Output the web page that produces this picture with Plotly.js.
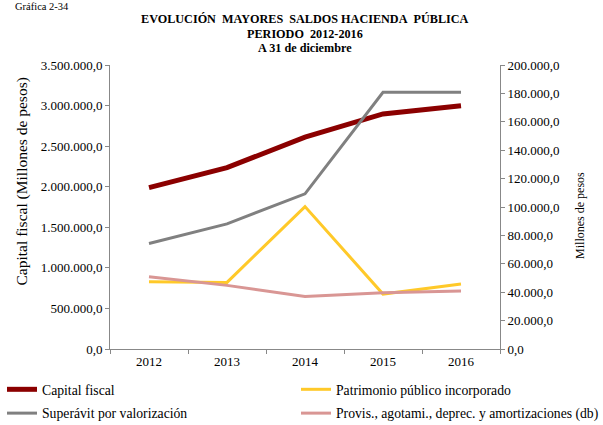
<!DOCTYPE html>
<html>
<head>
<meta charset="utf-8">
<script src="https://cdn.plot.ly/plotly-3.0.1.min.js"></script>
<style>html,body{margin:0;padding:0;background:#fff;}#chart{width:603px;height:425px;}</style>
</head>
<body>
<div id="chart"></div>
<script>
var years = ['2012', '2013', '2014', '2015', '2016'];
var capitalFiscal = [1989000, 2236000, 2610000, 2897000, 2999000];
var patrimonioPublico = [47300, 46900, 100300, 38700, 45800];
var superavitValorizacion = [74300, 88100, 109300, 180800, 180800];
var provisiones = [50900, 44800, 37000, 39600, 40800];
var leftTicks = [0, 500000, 1000000, 1500000, 2000000, 2500000, 3000000, 3500000];
var rightTicks = [0, 20000, 40000, 60000, 80000, 100000, 120000, 140000, 160000, 180000, 200000];

var serif = 'Liberation Serif, Times New Roman, serif';
var NB = '\u00A0';

var traces = [
  {x: years, y: capitalFiscal, name: 'Capital fiscal', type: 'scatter', mode: 'lines',
   line: {color: '#8B0000', width: 5}, yaxis: 'y', legend: 'legend', legendgroup: 'a'},
  {x: years, y: patrimonioPublico, name: 'Patrimonio público incorporado', type: 'scatter', mode: 'lines',
   line: {color: '#FFC929', width: 3}, yaxis: 'y2', legend: 'legend2', legendgroup: 'b'},
  {x: years, y: superavitValorizacion, name: 'Superávit por valorización', type: 'scatter', mode: 'lines',
   line: {color: '#808080', width: 3}, yaxis: 'y2', legend: 'legend', legendgroup: 'c'},
  {x: years, y: provisiones, name: 'Provis., agotami., deprec. y amortizaciones (db)', type: 'scatter', mode: 'lines',
   line: {color: '#D99694', width: 3}, yaxis: 'y2', legend: 'legend2', legendgroup: 'd'}
];

var legendFont = {family: serif, size: 13.7, color: '#000'};

var layout = {
  width: 603, height: 425,
  margin: {l: 110, r: 103, t: 65, b: 76, autoexpand: false},
  paper_bgcolor: '#fff', plot_bgcolor: '#fff',
  separators: ',.',
  font: {family: serif, size: 13, color: '#000'},
  showlegend: true,
  legend: {orientation: 'v', x: -0.2769, xanchor: 'left', y: -0.0877, yanchor: 'top',
           tracegroupgap: 3, traceorder: 'grouped', font: legendFont, bgcolor: 'rgba(0,0,0,0)'},
  legend2: {orientation: 'v', x: 0.4769, xanchor: 'left', y: -0.0877, yanchor: 'top',
            tracegroupgap: 3, traceorder: 'grouped', font: legendFont, bgcolor: 'rgba(0,0,0,0)'},
  xaxis: {type: 'category', range: [-0.5, 4.5], showgrid: false, zeroline: false,
          showline: true, linecolor: '#888', linewidth: 1,
          ticks: 'outside', tickson: 'boundaries', ticklen: 4, tickcolor: '#888',
          tickfont: {family: serif, size: 13, color: '#000'}},
  yaxis: {range: [0, 3500000], tickvals: leftTicks, tickformat: ',.1f', showgrid: false, zeroline: false,
          showline: true, linecolor: '#888', linewidth: 1, ticks: 'outside', ticklen: 4, tickcolor: '#888',
          tickfont: {family: serif, size: 13, color: '#000'}},
  yaxis2: {range: [0, 200000], tickvals: rightTicks, tickformat: ',.1f', overlaying: 'y', side: 'right',
           showgrid: false, zeroline: false, showline: true, linecolor: '#888', linewidth: 1,
           ticks: 'outside', ticklen: 4, tickcolor: '#888',
           tickfont: {family: serif, size: 13, color: '#000'}},
  annotations: [
    {text: 'Gráfica 2-34', xref: 'paper', yref: 'paper', x: -0.2487, y: 1.206, xanchor: 'left', yanchor: 'middle',
     showarrow: false, font: {family: serif, size: 10.5, color: '#000'}},
    {text: '<b>EVOLUCIÓN' + NB + NB + 'MAYORES' + NB + NB + 'SALDOS HACIENDA' + NB + NB + 'PÚBLICA</b>',
     xref: 'paper', yref: 'paper', x: 0.5, y: 1.162, xanchor: 'center', yanchor: 'middle', showarrow: false,
     font: {family: serif, size: 12.2, color: '#000'}},
    {text: '<b>PERIODO' + NB + NB + '2012-2016</b>',
     xref: 'paper', yref: 'paper', x: 0.5, y: 1.1109, xanchor: 'center', yanchor: 'middle', showarrow: false,
     font: {family: serif, size: 12.2, color: '#000'}},
    {text: '<b>A 31 de diciembre</b>',
     xref: 'paper', yref: 'paper', x: 0.5, y: 1.0599, xanchor: 'center', yanchor: 'middle', showarrow: false,
     font: {family: serif, size: 12.2, color: '#000'}},
    {text: 'Capital fiscal (Millones de pesos)', textangle: -90,
     xref: 'paper', yref: 'paper', x: -0.2256, y: 0.5898, xanchor: 'center', yanchor: 'middle', showarrow: false,
     font: {family: serif, size: 15.5, color: '#000'}},
    {text: 'Millones de pesos', textangle: -90,
     xref: 'paper', yref: 'paper', x: 1.2051, y: 0.472, xanchor: 'center', yanchor: 'middle', showarrow: false,
     font: {family: serif, size: 12, color: '#000'}}
  ]
};

Plotly.newPlot('chart', traces, layout, {displayModeBar: false, staticPlot: true});
</script>
</body>
</html>
